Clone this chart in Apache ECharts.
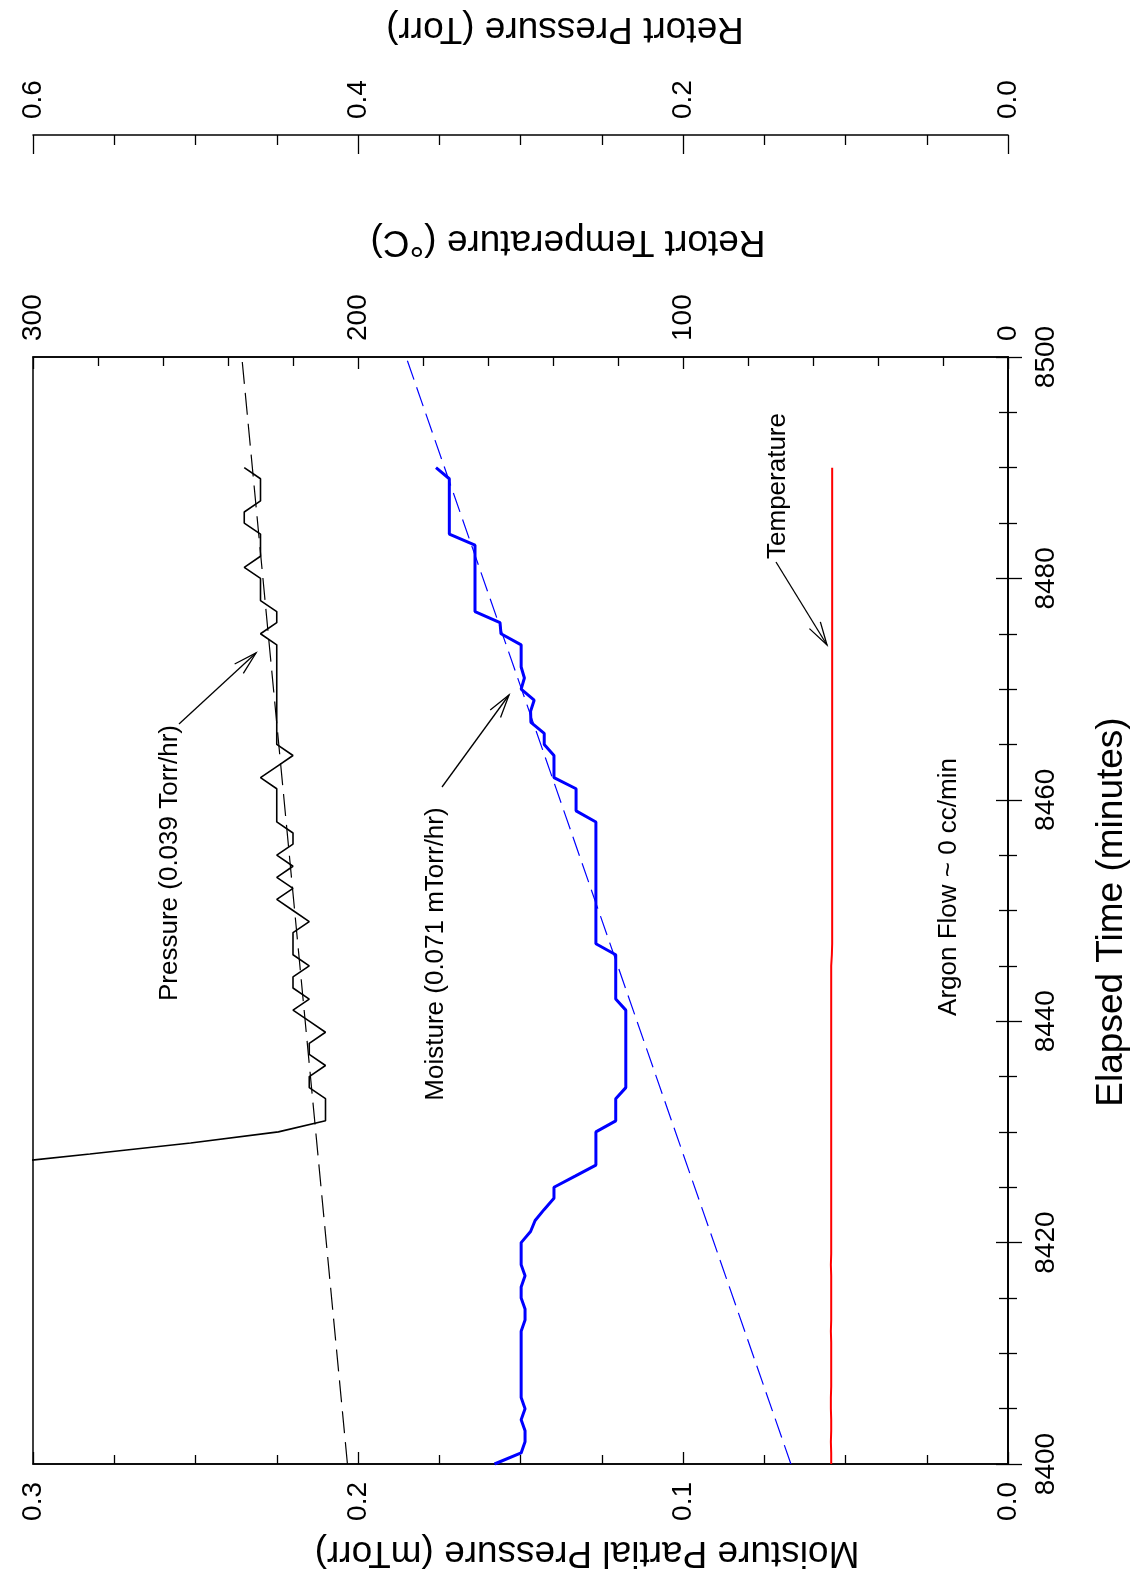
<!DOCTYPE html>
<html>
<head>
<meta charset="utf-8">
<script src="https://cdn.jsdelivr.net/npm/echarts@6/dist/echarts.min.js"></script>
<style>
html,body{margin:0;padding:0;background:#fff;}
#chart{width:1133px;height:1581px;}
</style>
</head>
<body>
<div id="chart"></div>
<script>
// ---------- data ----------
var moistureTicks = [0, 0.1, 0.2, 0.3];
var temperatureTicks = [0, 100, 200, 300];
var pressureTicks = [0, 0.2, 0.4, 0.6];
var timeTicks = [8400, 8420, 8440, 8460, 8480, 8500];

var sampleTimes = [
 8400,8401,8402,8403,8404,8405,8406,8407,8408,8409,
 8410,8411,8412,8413,8414,8415,8416,8417,8418,8419,
 8420,8421,8422,8423,8424,8425,8426,8427,8428,8429,
 8430,8431,8432,8433,8434,8435,8436,8437,8438,8439,
 8440,8441,8442,8443,8444,8445,8446,8447,8448,8449,
 8450,8451,8452,8453,8454,8455,8456,8457,8458,8459,
 8460,8461,8462,8463,8464,8465,8466,8467,8468,8469,
 8470,8471,8472,8473,8474,8475,8476,8477,8478,8479,
 8480,8481,8482,8483,8484,8485,8486,8487,8488,8489,
 8490
];

var moistureValues = [
 0.158,0.1498,0.1486,0.1486,0.1498,0.1486,0.1498,0.1498,0.1498,0.1498,
 0.1498,0.1498,0.1498,0.1486,0.1486,0.1498,0.1498,0.1486,0.1498,0.1498,
 0.1498,0.1469,0.1455,0.1427,0.1397,0.1397,0.1332,0.1268,0.1268,0.1268,
 0.1268,0.1207,0.1207,0.1207,0.1176,0.1176,0.1176,0.1176,0.1176,0.1176,
 0.1176,0.1176,0.1207,0.1207,0.1207,0.1207,0.1207,0.1268,0.1268,0.1268,
 0.1268,0.1268,0.1268,0.1268,0.1268,0.1268,0.1268,0.1268,0.1268,0.1329,
 0.1329,0.1329,0.1397,0.1397,0.1397,0.1427,0.1427,0.1468,0.1469,0.1458,
 0.1498,0.1488,0.1498,0.1498,0.1498,0.1560,0.1563,0.164,0.164,0.164,
 0.164,0.164,0.164,0.164,0.1719,0.1719,0.1719,0.1719,0.1719,0.1719,
 0.176
];

var temperatureValues = [
 54.4,54.4,54.5,54.4,54.4,54.5,54.5,54.4,54.4,54.4,
 54.4,54.4,54.5,54.4,54.4,54.4,54.4,54.4,54.5,54.4,
 54.4,54.4,54.4,54.4,54.4,54.4,54.4,54.4,54.4,54.4,
 54.4,54.4,54.4,54.4,54.4,54.4,54.4,54.4,54.4,54.4,
 54.4,54.4,54.4,54.4,54.4,54.4,54.2,54.1,54.1,54.1,
 54.1,54.1,54.1,54.1,54.1,54.1,54.1,54.1,54.1,54.1,
 54.1,54.1,54.1,54.1,54.1,54.1,54.1,54.1,54.1,54.1,
 54.1,54.1,54.1,54.1,54.1,54.1,54.1,54.1,54.1,54.1,
 54.1,54.1,54.1,54.1,54.1,54.1,54.1,54.1,54.1,54.1,
 54.1
];

var pressureTimes = [
 8426,8427,8428,8429,8430,8431,8432,8433,8434,8435,
 8436,8437,8438,8439,8440,8441,8442,8443,8444,8445,
 8446,8447,8448,8449,8450,8451,8452,8453,8454,8455,
 8456,8457,8458,8459,8460,8461,8462,8463,8464,8465,
 8466,8467,8468,8469,8470,8471,8472,8473,8474,8475,
 8476,8477,8478,8479,8480,8481,8482,8483,8484,8485,
 8486,8487,8488,8489,8490
];
var pressureValues = [
 0.72,0.63,0.565,0.503,0.449,0.420,0.420,0.420,0.430,0.430,
 0.420,0.430,0.430,0.420,0.430,0.440,0.430,0.440,0.440,0.430,
 0.440,0.440,0.440,0.430,0.440,0.450,0.440,0.450,0.440,0.450,
 0.440,0.440,0.450,0.450,0.450,0.450,0.460,0.450,0.440,0.450,
 0.450,0.450,0.450,0.450,0.450,0.450,0.450,0.450,0.450,0.460,
 0.450,0.450,0.460,0.460,0.460,0.470,0.460,0.460,0.460,0.470,
 0.470,0.460,0.460,0.460,0.470
];

// least-squares fit lines as drawn (end points)
var fitTimes = [8400, 8500];
var pressureFitValues = [0.4065, 0.4715];
var moistureFitValues = [0.0668, 0.1852];

// ---------- chart ----------
var FONT = "'Liberation Sans', Arial, Helvetica, sans-serif";
function pairs(times, vals){ return times.map(function(t,i){ return [vals[i], t]; }); }

var chart = echarts.init(document.getElementById('chart'), null, {renderer:'canvas'});

var frameLine = {show:true, lineStyle:{color:'#000', width:1.5}};
function labelStyle(extra){
  var o = {show:true, color:'#000', fontSize:28, fontFamily:FONT, rotate:90};
  for (var k in extra) o[k] = extra[k];
  return o;
}

function arrow(x1,y1,x2,y2){
  var a = Math.atan2(y2-y1, x2-x1), L = 24, w = 0.27;
  return [
    {type:'line', shape:{x1:x1,y1:y1,x2:x2,y2:y2}, style:{stroke:'#000', lineWidth:1.3}, silent:true},
    {type:'polyline', shape:{points:[
      [x2 - L*Math.cos(a-w), y2 - L*Math.sin(a-w)], [x2,y2],
      [x2 - L*Math.cos(a+w), y2 - L*Math.sin(a+w)]]},
     style:{stroke:'#000', lineWidth:1.3, fill:null}, silent:true}
  ];
}
function txt(text, x, y, rot, size){
  return {type:'text', x:x, y:y, rotation:rot, silent:true,
    style:{text:text, font: size + 'px ' + FONT, fill:'#000',
      align:'center', verticalAlign:'middle', textAlign:'center', textVerticalAlign:'middle'}};
}

var graphics = [
  txt('Retort Pressure (Torr)', 565, 28, Math.PI, 37),
  txt('Retort Temperature (°C)', 568, 241, Math.PI, 37),
  txt('Moisture Partial Pressure (mTorr)', 587, 1552, Math.PI, 37),
  txt('Elapsed Time (minutes)', 1112, 912, Math.PI/2, 37),
  txt('Pressure (0.039 Torr/hr)', 170, 863, Math.PI/2, 26),
  txt('Moisture (0.071 mTorr/hr)', 436, 954, Math.PI/2, 26),
  txt('Temperature', 778, 486, Math.PI/2, 26),
  txt('Argon Flow ~ 0 cc/min', 949, 887, Math.PI/2, 26)
].concat(arrow(179,724,256,653), arrow(442,787,509,695), arrow(776,562,827,645));

var option = {
  animation:false,
  backgroundColor:'#fff',
  grid:{left:33, right:125, top:357, bottom:117, show:true, borderColor:'#000', borderWidth:1.5, containLabel:false},
  xAxis:[
    { // moisture, bottom
      type:'value', position:'bottom', inverse:true,
      min:moistureTicks[0], max:moistureTicks[moistureTicks.length-1], interval:moistureTicks[1]-moistureTicks[0],
      axisLine:frameLine,
      axisTick:{show:true, inside:true, length:12, lineStyle:{color:'#000', width:1.3}},
      minorTick:{show:true, splitNumber:4, length:9, lineStyle:{color:'#000', width:1.3}},
      splitLine:{show:false}, minorSplitLine:{show:false},
      axisLabel:labelStyle({margin:18, formatter:function(v){return v.toFixed(1);}})
    },
    { // temperature, top
      type:'value', position:'top', inverse:true,
      min:temperatureTicks[0], max:temperatureTicks[temperatureTicks.length-1], interval:temperatureTicks[1]-temperatureTicks[0],
      axisLine:frameLine,
      axisTick:{show:true, inside:true, length:12, lineStyle:{color:'#000', width:1.3}},
      minorTick:{show:true, splitNumber:5, length:9, lineStyle:{color:'#000', width:1.3}},
      splitLine:{show:false},
      axisLabel:labelStyle({margin:16, rotate:-90, formatter:function(v){return String(v);}})
    },
    { // pressure, top outer
      type:'value', position:'top', inverse:true, offset:222,
      min:pressureTicks[0], max:pressureTicks[pressureTicks.length-1], interval:pressureTicks[1]-pressureTicks[0],
      axisLine:frameLine,
      axisTick:{show:true, inside:true, length:19, lineStyle:{color:'#000', width:1.3}},
      minorTick:{show:true, splitNumber:4, length:10, lineStyle:{color:'#000', width:1.3}},
      splitLine:{show:false},
      axisLabel:labelStyle({margin:16, rotate:-90, formatter:function(v){return v.toFixed(1);}})
    }
  ],
  yAxis:[
    { // elapsed time, right
      type:'value', position:'right',
      min:timeTicks[0], max:timeTicks[timeTicks.length-1], interval:timeTicks[1]-timeTicks[0],
      axisLine:frameLine,
      axisTick:{show:true, inside:true, length:12, lineStyle:{color:'#000', width:1.3}},
      minorTick:{show:true, splitNumber:4, length:9, lineStyle:{color:'#000', width:1.3}},
      splitLine:{show:false},
      axisLabel:labelStyle({margin:24, formatter:function(v){return String(v);}})
    },
    { // mirror ticks on left
      type:'value', position:'left',
      min:timeTicks[0], max:timeTicks[timeTicks.length-1], interval:timeTicks[1]-timeTicks[0],
      axisLine:frameLine,
      axisTick:{show:true, inside:true, length:14, lineStyle:{color:'#000', width:1.3}},
      minorTick:{show:true, splitNumber:4, length:9, lineStyle:{color:'#000', width:1.3}},
      splitLine:{show:false},
      axisLabel:{show:false}
    }
  ],
  series:[
    {name:'Pressure', type:'line', xAxisIndex:2, yAxisIndex:0, data:pairs(pressureTimes, pressureValues),
     showSymbol:false, clip:true, lineStyle:{color:'#000', width:1.6}, z:3},
    {name:'Pressure fit', type:'line', xAxisIndex:2, yAxisIndex:0, data:pairs(fitTimes, pressureFitValues),
     showSymbol:false, clip:true, lineStyle:{color:'#000', width:1.2, type:[22,9]}, z:2},
    {name:'Moisture', type:'line', xAxisIndex:0, yAxisIndex:0, data:pairs(sampleTimes, moistureValues),
     showSymbol:false, clip:true, lineStyle:{color:'#0000ff', width:3}, z:3},
    {name:'Moisture fit', type:'line', xAxisIndex:0, yAxisIndex:0, data:pairs(fitTimes, moistureFitValues),
     showSymbol:false, clip:true, lineStyle:{color:'#0000ff', width:1.2, type:[20,8]}, z:2},
    {name:'Temperature', type:'line', xAxisIndex:1, yAxisIndex:0, data:pairs(sampleTimes, temperatureValues),
     showSymbol:false, clip:true, lineStyle:{color:'#ff0000', width:2}, z:3}
  ],
  graphic:graphics
};
chart.setOption(option);
</script>
</body>
</html>
